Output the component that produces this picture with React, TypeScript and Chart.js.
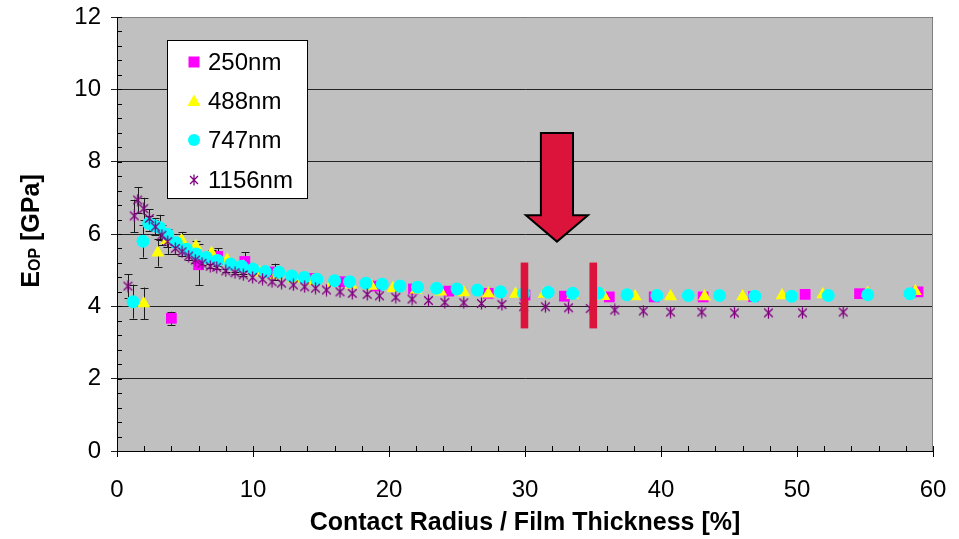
import React, { useEffect, useRef } from 'react';
import { Chart, registerables } from 'chart.js';
Chart.register(...registerables);

// ---------- data ----------
const seriesNames = ['250nm', '488nm', '747nm', '1156nm'];

const x250 = [4.0, 6.0, 7.4, 9.4, 11.6, 14.2, 16.6, 19.1, 21.8, 24.4, 27.3, 30.0, 32.9, 36.2, 39.5, 43.1, 46.8, 50.6, 54.6, 58.9];
const y250 = [3.67, 5.15, 5.38, 5.24, 4.95, 4.77, 4.68, 4.56, 4.48, 4.42, 4.36, 4.31, 4.28, 4.26, 4.26, 4.26, 4.27, 4.33, 4.35, 4.40];
const e250 = [0.18, 0.57, 0.22, 0.25, 0.23, 0.08, 0.06, 0.05, 0.04, 0.03, 0, 0, 0, 0, 0, 0, 0, 0, 0, 0];

const x488 = [1.96, 3.0, 3.65, 4.75, 5.8, 6.95, 8.1, 9.3, 10.5, 11.7, 13.0, 14.4, 15.8, 17.2, 18.7, 20.3, 22.0, 23.8, 25.5, 27.3, 29.3, 31.4, 33.5, 35.8, 38.1, 40.7, 43.2, 46.0, 48.9, 51.9, 55.2, 58.7];
const y488 = [4.08, 5.48, 5.83, 5.83, 5.66, 5.47, 5.28, 5.1, 4.93, 4.85, 4.76, 4.7, 4.64, 4.6, 4.56, 4.5, 4.45, 4.4, 4.38, 4.35, 4.34, 4.34, 4.31, 4.28, 4.27, 4.27, 4.27, 4.27, 4.3, 4.33, 4.37, 4.42];
const e488 = [0.44, 0.38, 0.2, 0.23, 0.15, 0.1, 0.06, 0.05, 0.04, 0.03, 0, 0, 0, 0, 0, 0, 0, 0, 0, 0, 0, 0, 0, 0, 0, 0, 0, 0, 0, 0, 0, 0];

const x747 = [1.18, 1.91, 2.33, 2.73, 3.13, 3.72, 4.36, 5.1, 5.83, 6.57, 7.4, 8.36, 9.17, 10.0, 10.9, 11.9, 12.84, 13.77, 14.7, 16.0, 17.1, 18.3, 19.5, 20.8, 22.1, 23.5, 25.0, 26.5, 28.2, 29.9, 31.7, 33.5, 35.4, 37.5, 39.7, 42.0, 44.3, 46.9, 49.6, 52.3, 55.2, 58.3];
const y747 = [4.13, 5.8, 6.29, 6.23, 6.18, 5.99, 5.76, 5.58, 5.45, 5.35, 5.27, 5.17, 5.11, 5.03, 4.96, 4.94, 4.84, 4.8, 4.75, 4.71, 4.68, 4.64, 4.61, 4.56, 4.53, 4.5, 4.48, 4.45, 4.4, 4.36, 4.39, 4.36, 4.36, 4.32, 4.3, 4.3, 4.3, 4.28, 4.28, 4.3, 4.32, 4.35];
const e747 = [0.47, 0.45, 0.2, 0.15, 0.35, 0.1, 0.08, 0.06, 0.05, 0.04, 0, 0, 0, 0, 0, 0, 0, 0, 0, 0, 0, 0, 0, 0, 0, 0, 0, 0, 0, 0, 0, 0, 0, 0, 0, 0, 0, 0, 0, 0, 0, 0];

const x1156 = [0.8, 1.27, 1.52, 1.96, 2.38, 2.82, 3.3, 3.73, 4.29, 4.78, 5.27, 5.76, 6.25, 6.86, 7.33, 8.0, 8.68, 9.29, 9.97, 10.7, 11.4, 12.1, 12.97, 13.8, 14.6, 15.4, 16.4, 17.3, 18.4, 19.3, 20.5, 21.7, 22.9, 24.1, 25.5, 26.8, 28.3, 29.9, 31.5, 33.2, 34.8, 36.6, 38.7, 40.7, 43.0, 45.4, 47.9, 50.4, 53.4];
const y1156 = [4.56, 6.5, 6.94, 6.7, 6.43, 6.2, 5.97, 5.79, 5.6, 5.51, 5.39, 5.28, 5.19, 5.11, 5.08, 4.98, 4.93, 4.87, 4.8, 4.75, 4.68, 4.64, 4.59, 4.54, 4.5, 4.45, 4.4, 4.36, 4.33, 4.29, 4.25, 4.2, 4.16, 4.11, 4.1, 4.08, 4.05, 3.99, 3.99, 3.96, 3.94, 3.9, 3.87, 3.84, 3.84, 3.82, 3.82, 3.82, 3.84];
const e1156 = [0.33, 0.45, 0.36, 0.3, 0.25, 0.24, 0.27, 0.35, 0.15, 0.12, 0.1, 0.08, 0.06, 0.05, 0.04, 0.04, 0.03, 0.03, 0, 0, 0, 0, 0, 0, 0, 0, 0, 0, 0, 0, 0, 0, 0, 0, 0, 0, 0, 0, 0, 0, 0, 0, 0, 0, 0, 0, 0, 0, 0];

const xTickStep = 10;
const yTickStep = 2;
const xMinorStep = 2;
const yMinorStep = 0.4;
const xTitle = 'Contact Radius / Film Thickness [%]';

const FONT = '"Liberation Sans", Arial, sans-serif';
const PURPLE = '#800080';

function makeAsterisk(size: number): HTMLCanvasElement {
  const c = document.createElement('canvas');
  c.width = size; c.height = size;
  const g = c.getContext('2d')!;
  const m = size / 2;
  const r = size / 2 - 0.5;
  g.strokeStyle = PURPLE;
  g.lineWidth = 1.3;
  g.beginPath();
  g.moveTo(m, m - r); g.lineTo(m, m + r);
  const d = r * 0.72;
  g.moveTo(m - d, m - d); g.lineTo(m + d, m + d);
  g.moveTo(m - d, m + d); g.lineTo(m + d, m - d);
  g.stroke();
  return c;
}

const pts = (xs: number[], ys: number[]) => xs.map((x, i) => ({ x, y: ys[i] }));

export default function App() {
  const ref = useRef<HTMLCanvasElement>(null);
  useEffect(() => {
    document.body.style.margin = '0';
    const star = makeAsterisk(13);
    const starLegend = makeAsterisk(12);
    const errs = [e250, e488, e747, e1156];

    const bgPlugin = {
      id: 'bg',
      beforeDraw(chart: any) {
        const { ctx, chartArea: a } = chart;
        ctx.save();
        ctx.fillStyle = '#C0C0C0';
        ctx.fillRect(a.left, a.top, a.right - a.left, a.bottom - a.top);
        ctx.restore();
      },
      beforeDatasetsDraw(chart: any) {
        const { ctx } = chart;
        const xs = chart.scales.x, ys = chart.scales.y;
        ctx.save();
        ctx.strokeStyle = '#1a1a1a';
        ctx.lineWidth = 1;
        chart.data.datasets.forEach((ds: any, di: number) => {
          const e = errs[di];
          ds.data.forEach((p: any, i: number) => {
            if (!e[i]) return;
            const px = Math.round(xs.getPixelForValue(p.x)) + 0.5;
            const t = ys.getPixelForValue(p.y + e[i]);
            const b = ys.getPixelForValue(p.y - e[i]);
            ctx.beginPath();
            ctx.moveTo(px, t); ctx.lineTo(px, b);
            ctx.moveTo(px - 4, Math.round(t) + 0.5); ctx.lineTo(px + 4, Math.round(t) + 0.5);
            ctx.moveTo(px - 4, Math.round(b) + 0.5); ctx.lineTo(px + 4, Math.round(b) + 0.5);
            ctx.stroke();
          });
        });
        ctx.restore();
      },
      afterDraw(chart: any) {
        const { ctx, chartArea: a } = chart;
        const xs = chart.scales.x, ys = chart.scales.y;
        ctx.save();
        // plot border (top/right)
        ctx.strokeStyle = '#808080';
        ctx.lineWidth = 1;
        ctx.beginPath();
        ctx.moveTo(a.left, a.top + 0.5); ctx.lineTo(a.right - 0.5, a.top + 0.5); ctx.lineTo(a.right - 0.5, a.bottom);
        ctx.stroke();
        // minor ticks
        ctx.strokeStyle = '#000';
        ctx.beginPath();
        for (let v = 0; v <= 12.001; v += yMinorStep) {
          const py = Math.round(ys.getPixelForValue(v)) + 0.5;
          ctx.moveTo(a.left, py); ctx.lineTo(a.left + 5, py);
        }
        for (let v = 0; v <= 60.001; v += xMinorStep) {
          const px = Math.round(xs.getPixelForValue(v)) + 0.5;
          ctx.moveTo(px, a.bottom); ctx.lineTo(px, a.bottom - 5);
        }
        ctx.stroke();

        // red bars
        ctx.fillStyle = '#DC143C';
        [29.96, 35.02].forEach((xv) => {
          const cx = xs.getPixelForValue(xv);
          const t = ys.getPixelForValue(5.21), b = ys.getPixelForValue(3.39);
          ctx.fillRect(cx - 3.8, t, 7.6, b - t);
        });
        // arrow
        const ax = xs.getPixelForValue(32.35);
        const sh = xs.getPixelForValue(32.35 + 1.18) - ax;
        const hh = xs.getPixelForValue(32.35 + 2.28) - ax;
        const yT = ys.getPixelForValue(8.79), yB = ys.getPixelForValue(6.52), yTip = ys.getPixelForValue(5.79);
        ctx.beginPath();
        ctx.moveTo(ax - sh, yT); ctx.lineTo(ax + sh, yT); ctx.lineTo(ax + sh, yB);
        ctx.lineTo(ax + hh, yB); ctx.lineTo(ax, yTip); ctx.lineTo(ax - hh, yB);
        ctx.lineTo(ax - sh, yB); ctx.closePath();
        ctx.fillStyle = '#DC143C';
        ctx.fill();
        ctx.strokeStyle = '#000';
        ctx.lineWidth = 2;
        ctx.lineJoin = 'miter';
        ctx.stroke();

        // legend
        const L = 167.5, T = 40.5, W = 140, H = 158;
        ctx.fillStyle = '#fff';
        ctx.fillRect(L, T, W, H);
        ctx.strokeStyle = '#000';
        ctx.lineWidth = 1;
        ctx.strokeRect(L, T, W, H);
        const rows = [62, 101, 140, 180];
        const mx = 194;
        ctx.font = `24px ${FONT}`;
        ctx.textBaseline = 'middle';
        ctx.textAlign = 'left';
        rows.forEach((ry, i) => {
          if (i === 0) { ctx.fillStyle = '#FF00FF'; ctx.fillRect(mx - 5.5, ry - 5.5, 11, 11); }
          if (i === 1) {
            ctx.fillStyle = '#FFFF00';
            ctx.beginPath(); ctx.moveTo(mx, ry - 6.5); ctx.lineTo(mx + 6.5, ry + 5); ctx.lineTo(mx - 6.5, ry + 5); ctx.closePath(); ctx.fill();
          }
          if (i === 2) { ctx.fillStyle = '#00FFFF'; ctx.beginPath(); ctx.arc(mx, ry, 6, 0, Math.PI * 2); ctx.fill(); }
          if (i === 3) { ctx.drawImage(starLegend, mx - 6, ry - 6); }
          ctx.fillStyle = '#000';
          ctx.fillText(seriesNames[i], 208, ry + 1);
        });

        // y title with subscript
        ctx.save();
        ctx.translate(39, 231);
        ctx.rotate(-Math.PI / 2);
        ctx.fillStyle = '#000';
        ctx.textBaseline = 'alphabetic';
        const big = `bold 25px ${FONT}`, small = `bold 16px ${FONT}`;
        ctx.font = big; const wE = ctx.measureText('E').width; const wR = ctx.measureText(' [GPa]').width;
        ctx.font = small; const wS = ctx.measureText('OP').width;
        let sx = -(wE + wS + wR) / 2;
        ctx.font = big; ctx.fillText('E', sx, 0); sx += wE;
        ctx.font = small; ctx.fillText('OP', sx, 1); sx += wS;
        ctx.font = big; ctx.fillText(' [GPa]', sx, 0);
        ctx.restore();
        ctx.restore();
      },
    };

    const chart = new Chart(ref.current!, {
      type: 'scatter',
      data: {
        datasets: [
          { label: seriesNames[0], data: pts(x250, y250), pointStyle: 'rect', pointRadius: 7.6, backgroundColor: '#FF00FF', borderWidth: 0, order: 4 },
          { label: seriesNames[1], data: pts(x488, y488), pointStyle: 'triangle', pointRadius: 7.5, backgroundColor: '#FFFF00', borderWidth: 0, order: 3 },
          { label: seriesNames[2], data: pts(x747, y747), pointStyle: 'circle', pointRadius: 6.5, backgroundColor: '#00FFFF', borderWidth: 0, order: 2 },
          { label: seriesNames[3], data: pts(x1156, y1156), pointStyle: star as any, pointRadius: 6.5, backgroundColor: PURPLE, borderColor: PURPLE, borderWidth: 1, order: 1 },
        ],
      },
      options: {
        animation: false,
        responsive: false,
        devicePixelRatio: 1,
        layout: { padding: { top: 17, right: 26, left: 0, bottom: 0 } },
        plugins: { legend: { display: false }, tooltip: { enabled: false } },
        scales: {
          x: {
            type: 'linear', min: 0, max: 60,
            afterFit: (s: any) => { s.height = 88; s.paddingLeft = 0; s.paddingRight = 0; },
            ticks: { stepSize: xTickStep, color: '#000', font: { family: FONT, size: 24 }, padding: 19, maxRotation: 0 },
            grid: { drawOnChartArea: false, drawTicks: true, tickLength: 6, color: '#000' },
            border: { color: '#000', width: 1 },
            title: { display: true, text: xTitle, color: '#000', font: { family: FONT, size: 25, weight: 'bold' }, padding: { bottom: 1, top: 0 } },
          },
          y: {
            type: 'linear', min: 0, max: 12,
            afterFit: (s: any) => { s.width = 117; s.paddingTop = 0; s.paddingBottom = 0; },
            ticks: { stepSize: yTickStep, color: '#000', font: { family: FONT, size: 24 }, padding: 10 },
            grid: { drawOnChartArea: true, drawTicks: true, tickLength: 6, color: '#222' },
            border: { color: '#000', width: 1 },
          },
        },
      },
      plugins: [bgPlugin],
    });
    return () => chart.destroy();
  }, []);
  return (
    <div style={{ width: 959, height: 539, position: 'relative' }}>
      <canvas ref={ref} width={959} height={539} />
    </div>
  );
}
